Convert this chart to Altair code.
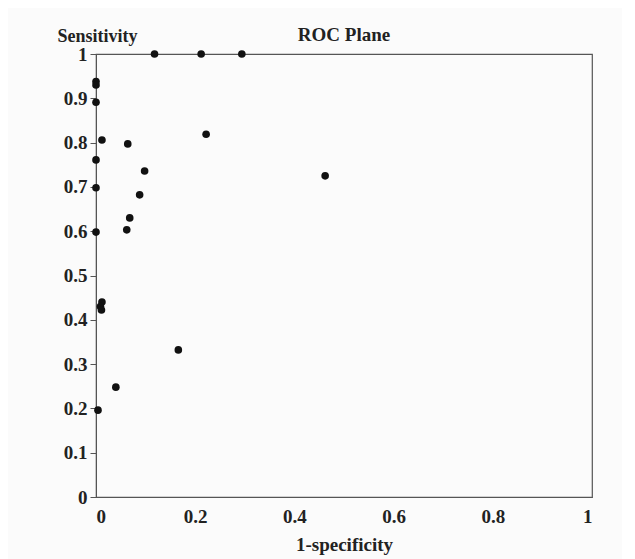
import altair as alt
import pandas as pd

# 1-specificity (false positive rate) and sensitivity for each study
fpr = [0.118, 0.212, 0.294, 0.0, 0.0, 0.0, 0.012, 0.064, 0.0, 0.222,
       0.098, 0.088, 0.0, 0.068, 0.062, 0.0, 0.462, 0.012, 0.009, 0.011,
       0.166, 0.040, 0.004]
sens = [1.0, 1.0, 1.0, 0.938, 0.930, 0.891, 0.806, 0.797, 0.761, 0.819,
        0.736, 0.682, 0.698, 0.630, 0.603, 0.598, 0.725, 0.440, 0.430, 0.422,
        0.332, 0.248, 0.196]

x_ticks = [0, 0.2, 0.4, 0.6, 0.8, 1]
y_ticks = [0, 0.1, 0.2, 0.3, 0.4, 0.5, 0.6, 0.7, 0.8, 0.9, 1]

df = pd.DataFrame({"fpr": fpr, "sens": sens})

FONT = "Liberation Serif"

chart = alt.Chart(df).mark_circle(size=58, color="#111111", opacity=1).encode(
    x=alt.X("fpr:Q",
            scale=alt.Scale(domain=[0, 1], nice=False, zero=False),
            axis=alt.Axis(values=x_ticks, format="~g", title="1-specificity",
                          grid=False, ticks=False, labelPadding=10,
                          labelFont=FONT, labelFontSize=19, labelFontWeight="bold",
                          labelColor="#222", domainColor="#555",
                          titleFont=FONT, titleFontSize=19, titleFontWeight="bold",
                          titleColor="#222", titlePadding=9)),
    y=alt.Y("sens:Q",
            scale=alt.Scale(domain=[0, 1], nice=False, zero=False),
            axis=alt.Axis(values=y_ticks, format="~g", title="Sensitivity",
                          grid=False, ticks=True, tickSize=6, tickColor="#555",
                          labelPadding=3,
                          labelFont=FONT, labelFontSize=19, labelFontWeight="bold",
                          labelColor="#222", domainColor="#555",
                          titleFont=FONT, titleFontSize=18, titleFontWeight="bold",
                          titleColor="#222", titleAngle=0, titleAlign="left",
                          titleBaseline="alphabetic", titleX=-39, titleY=-13)),
).properties(
    width=496,
    height=443,
    title=alt.TitleParams("ROC Plane", font=FONT, fontSize=19, fontWeight="bold",
                          color="#222", anchor="middle", dy=22),
    autosize=alt.AutoSizeParams(type="none"),
    padding={"left": 88, "top": 46, "right": 30, "bottom": 62},
    background="#fbfbfb",
).configure_view(stroke="#555", strokeWidth=1.2)

chart.save("out.html", embed_options={"renderer": "svg", "actions": False})
